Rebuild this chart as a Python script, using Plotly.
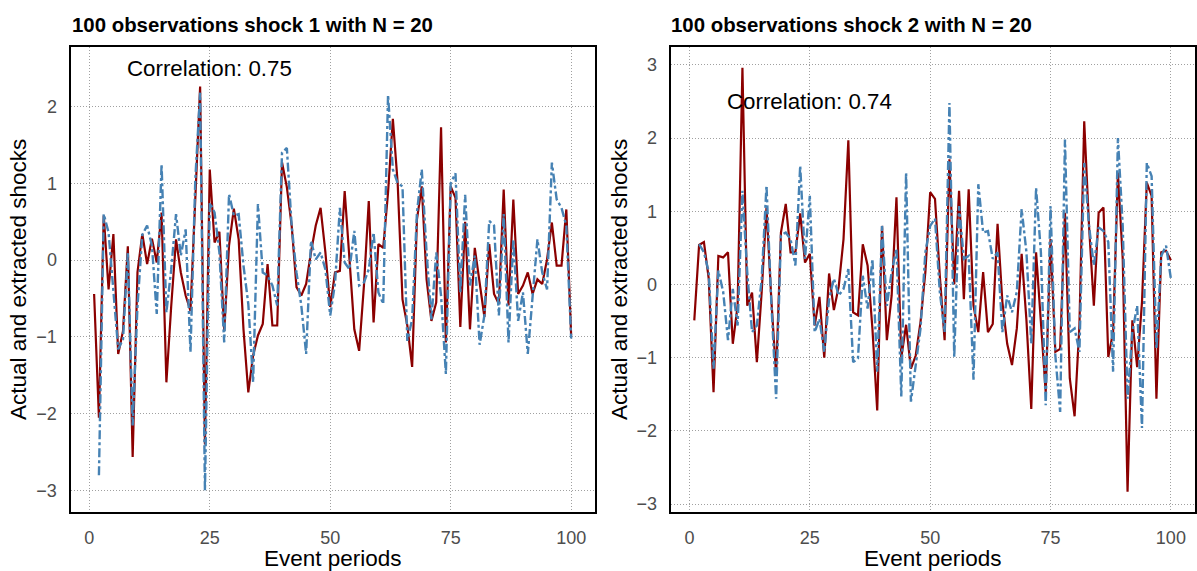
import plotly.graph_objects as go

periods = list(range(1, 101))

actual_1 = [-0.44, -2.05, 0.58, -0.38, 0.34, -1.22, -0.92, 0.18, -2.56, -0.16,
            0.34, -0.05, 0.28, -0.03, 0.62, -1.59, -0.6, 0.27, -0.16, -0.46,
            -0.66, 0.9, 2.26, -2.4, 1.18, 0.23, 0.37, -0.92, 0.19, 0.67,
            0.27, -0.9, -1.72, -1.24, -0.98, -0.83, -0.05, -0.85, -0.85, 1.27,
            0.95, 0.45, -0.35, -0.46, -0.31, 0.1, 0.45, 0.68, 0.1, -0.61,
            -0.16, -0.14, 0.9, 0.01, -0.9, -1.18, -0.33, 0.77, -0.81, 0.21,
            0.16, 0.88, 1.84, 1.0, -0.51, -0.85, -1.39, 0.53, 0.96, -0.25,
            -0.79, -0.55, 1.73, -1.07, 0.96, 0.81, -0.87, 0.5, -0.9, 0.16,
            -0.29, -0.74, 0.21, -0.44, -0.57, 0.92, -0.59, 0.79, -0.44, -0.33,
            -0.16, -0.44, -0.25, -0.31, 0.01, 0.49, -0.07, -0.07, 0.66, -0.98]

extracted_1 = [None, -2.8, 0.6, 0.36, -0.42, -1.16, -1.03, 0.1, -2.15, -0.6,
               0.33, 0.45, 0.19, -0.7, 1.25, -0.68, -0.12, 0.6, 0.06, 0.4,
               -1.2, 1.05, 2.18, -3.0, 0.75, 0.62, 0.1, -1.07, 0.86, 0.58,
               0.6, -0.07, -0.57, -1.59, 0.73, -0.16, -0.2, -0.33, -0.59, 1.4,
               1.46, 0.45, -0.16, -0.59, -1.22, 0.25, 0.01, 0.1, -0.12, -0.72,
               -0.3, 0.68, -0.03, -0.12, 0.38, -0.33, -0.29, -0.12, 0.36, -0.42,
               -0.57, 2.15, 1.18, 1.0, 0.96, -1.05, -0.77, 0.62, 1.18, 0.1,
               -0.77, 0.1, -0.46, -1.48, 1.0, 1.13, -0.42, 0.85, -0.33, 0.06,
               -1.1, -0.72, 0.51, 0.45, -0.72, 0.6, -1.07, 0.27, -0.79, -0.42,
               -1.22, -0.5, 0.27, -0.16, -0.38, 1.27, 0.79, 0.68, 0.45, -1.02]

actual_2 = [-0.49, 0.54, 0.58, 0.08, -1.47, 0.39, 0.37, 0.44, -0.81, -0.29,
            2.96, -0.29, -0.11, -1.06, -0.1, 1.05, -0.2, -1.24, 0.71, 1.1,
            0.44, 0.44, 0.97, 0.3, 0.42, -0.56, -0.17, -1.0, 0.15, -0.35,
            -0.03, 0.62, 1.97, -0.38, -0.42, 0.55, 0.26, -0.6, -1.72, 0.8,
            -0.76, -0.15, 1.19, -1.0, -0.55, -1.15, -0.97, -0.51, 0.17, 1.26,
            1.17, 0.12, -0.76, 1.71, 0.0, 1.28, -0.2, 1.3, -0.29, -0.65,
            0.17, -0.65, -0.54, 0.83, -0.24, -0.81, -1.1, -0.6, 0.42, -0.49,
            -1.7, 0.44, -0.51, -1.47, 0.62, -0.92, -0.88, 0.98, -1.28, -1.8,
            -0.56, 2.23, 0.8, -0.29, 0.98, 1.05, -0.99, -0.65, 1.53, 0.35,
            -2.83, -0.49, -1.13, -0.24, 1.39, 1.21, -1.56, 0.44, 0.46, 0.33]

extracted_2 = [None, 0.55, 0.44, 0.17, -1.15, 0.19, -0.1, -0.76, -0.06, -0.56,
               1.28, 0.17, -0.65, -0.56, 0.08, 1.35, -0.24, -1.56, 0.67, 0.71,
               0.62, 0.26, 1.62, 0.35, 1.21, -0.65, -0.47, -0.92, -0.2, 0.08,
               -0.15, -0.06, 0.21, -1.06, -1.01, 0.12, -0.33, 0.35, -1.19, 0.8,
               -0.29, 0.17, 0.49, -1.53, 1.53, -1.6, -1.06, -0.6, 0.44, 0.8,
               0.9, -0.1, -0.65, 2.48, -0.99, 1.07, 0.35, 0.39, -1.3, 1.37,
               0.71, 0.73, 0.35, 0.44, -0.65, -0.15, -0.38, -0.1, 1.03, 0.44,
               -0.81, 1.32, 0.44, -1.65, 1.07, -0.97, -1.74, 1.98, -0.65, -0.6,
               -0.92, 1.66, 0.8, 0.26, 0.78, 0.73, 0.58, -1.19, 2.0, 0.8,
               -1.56, -0.65, -0.29, -1.96, 1.66, 1.48, -0.88, 0.39, 0.53, 0.08]

titles = ["100 observations shock 1 with N = 20", "100 observations shock 2 with N = 20"]
corr_labels = ["Correlation: 0.75", "Correlation: 0.74"]
x_ticks = [0, 25, 50, 75, 100]

RED = "#8B0000"
BLUE = "#4682B4"
FONT = "Liberation Sans, Arial, Helvetica, sans-serif"

fig = go.Figure()

panels = [(actual_1, extracted_1, "x", "y"), (actual_2, extracted_2, "x2", "y2")]
for act, ext, xa, ya in panels:
    fig.add_trace(go.Scatter(x=periods, y=act, mode="lines", xaxis=xa, yaxis=ya,
                             line=dict(color=RED, width=2.2), showlegend=False,
                             connectgaps=False))
    fig.add_trace(go.Scatter(x=periods, y=ext, mode="lines", xaxis=xa, yaxis=ya,
                             line=dict(color=BLUE, width=2.4, dash="9px,3px,3px,3px"),
                             showlegend=False, connectgaps=False))

grid = dict(showgrid=True, gridcolor="#a0a0a0", griddash="1px,2px", gridwidth=1,
            zeroline=False, showline=True, linecolor="black", linewidth=2,
            mirror=True, ticks="", ticklabelstandoff=8,
            tickfont=dict(family=FONT, size=18, color="#4d4d4d"))

xcommon = dict(grid, tickvals=x_ticks, range=[-3.9, 104.95],
               title=dict(text="Event periods", font=dict(family=FONT, size=22.5, color="black"),
                          standoff=7))
ycommon = dict(grid, dtick=1, tick0=0,
               title=dict(text="Actual and extracted shocks",
                          font=dict(family=FONT, size=22.5, color="black"), standoff=3))

ytop = 1 - 46.7 / 571
ybot = 1 - 514 / 571
fig.update_layout(
    width=1197, height=571,
    margin=dict(l=0, r=0, t=0, b=0),
    paper_bgcolor="white", plot_bgcolor="white",
    font=dict(family=FONT),
    xaxis=dict(xcommon, domain=[70.5 / 1197, 595 / 1197], anchor="y"),
    yaxis=dict(ycommon, domain=[ybot, ytop], range=[-3.28, 2.78], anchor="x"),
    xaxis2=dict(xcommon, domain=[670.7 / 1197, 1194.7 / 1197], anchor="y2"),
    yaxis2=dict(ycommon, domain=[ybot, ytop], range=[-3.11, 3.25], anchor="x2"),
)

title_x = [69.5 / 1197, 669 / 1197]
for i, (t, c) in enumerate(zip(titles, corr_labels)):
    fig.add_annotation(text="<b>" + t + "</b>", xref="paper", yref="paper",
                       x=title_x[i], y=1 - 25 / 571, xanchor="left", yanchor="middle",
                       showarrow=False, font=dict(family=FONT, size=20.4, color="black"))
    sfx = "" if i == 0 else "2"
    fig.add_annotation(text=c, xref="x" + sfx, yref="y" + sfx, x=25, y=2.5,
                       xanchor="center", yanchor="middle", showarrow=False,
                       font=dict(family=FONT, size=22.3, color="black"))

fig.write_html("out.html")
